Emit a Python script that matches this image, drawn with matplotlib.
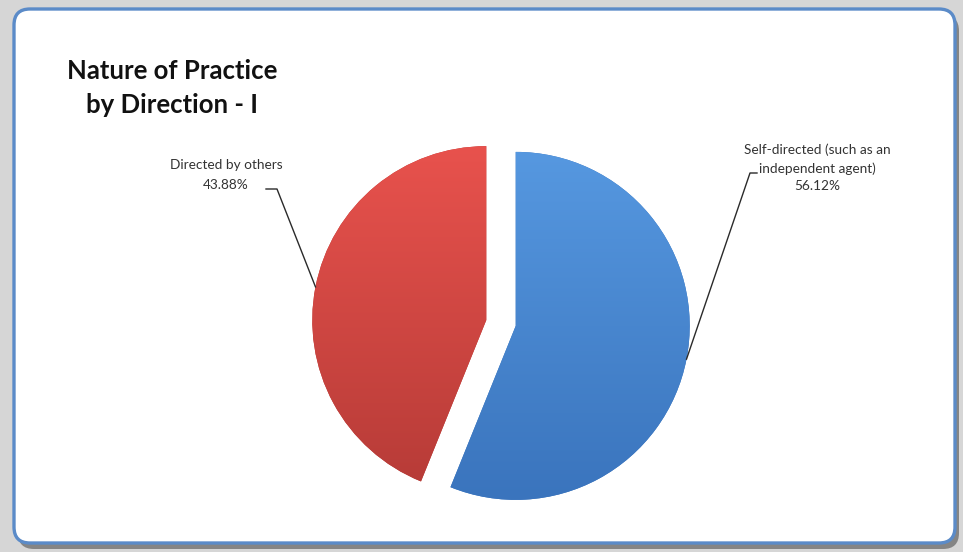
import matplotlib
matplotlib.use("Agg")
from matplotlib import pyplot as plt
from matplotlib.colors import LinearSegmentedColormap
from matplotlib.patches import FancyBboxPatch
import numpy as np

# Slice data, clockwise from 12 o'clock
labels = ["Self-directed (such as an\nindependent agent)", "Directed by others"]
shares = [56.12, 43.88]
top_colors = ["#5698e0", "#e8524d"]
bottom_colors = ["#3a74bd", "#b63b37"]

W, H = 963, 552


def gradient_fill(ax, wedge, top, bottom):
    """Paint a vertical gradient clipped to a wedge."""
    cmap = LinearSegmentedColormap.from_list("g", [bottom, top])
    cx, cy = wedge.center
    r = wedge.r
    grad = np.linspace(0, 1, 256).reshape(-1, 1)
    im = ax.imshow(grad, cmap=cmap, origin="lower", aspect="auto",
                   extent=(cx - r, cx + r, cy - r, cy + r), zorder=2)
    im.set_clip_path(wedge)


fig = plt.figure(figsize=(W / 100, H / 100), dpi=100)
fig.patch.set_facecolor("#d6d6d6")
ax = fig.add_axes([0, 0, 1, 1])

# Frame with drop shadow
shadow = FancyBboxPatch((18, 3), 941, 534, boxstyle="round,pad=0,rounding_size=16",
                        facecolor="#858585", edgecolor="none", zorder=0)
ax.add_patch(shadow)
frame = FancyBboxPatch((14, 9), 941, 534, boxstyle="round,pad=0,rounding_size=16",
                       facecolor="white", edgecolor="#5b8bc8", linewidth=2.4, zorder=1)
ax.add_patch(frame)

wedges, _ = ax.pie(shares, radius=174, center=(501, 229), explode=[15, 15],
                   startangle=90, counterclock=False,
                   colors=bottom_colors, wedgeprops=dict(linewidth=0))
for w, top, bottom in zip(wedges, top_colors, bottom_colors):
    w.set_zorder(2)
    gradient_fill(ax, w, top, bottom)

ax.set_xlim(0, W)
ax.set_ylim(0, H)
ax.set_aspect("auto")
ax.axis("off")

# Data labels with leader lines to the middle of each arc
text_pos = [(817, 384), (226, 377)]
line_gap = [1.55, 1.75]
elbows = [[(757, 379), (750, 379)], [(266, 363), (277, 363)]]
for w, lab, share, (tx, ty), gap, elb in zip(wedges, labels, shares, text_pos,
                                             line_gap, elbows):
    mid = np.deg2rad((w.theta1 + w.theta2) / 2)
    ax_pt = (w.center[0] + w.r * np.cos(mid), w.center[1] + w.r * np.sin(mid))
    xs = [p[0] for p in elb] + [ax_pt[0]]
    ys = [p[1] for p in elb] + [ax_pt[1]]
    ax.plot(xs, ys, color="#2a2a2a", lw=1.0, zorder=3)
    ax.text(tx, ty, f"{lab}\n{share:.2f}%", ha="center", va="center",
            fontsize=9.8, family="Lato", color="#333333", linespacing=gap, zorder=4)

ax.text(172, 464, "Nature of Practice\nby Direction - I", ha="center", va="center",
        fontsize=18.5, fontweight="bold", family="Lato", color="#111111",
        linespacing=1.5, zorder=4)

fig.savefig("out.png", dpi=100, facecolor=fig.get_facecolor())
